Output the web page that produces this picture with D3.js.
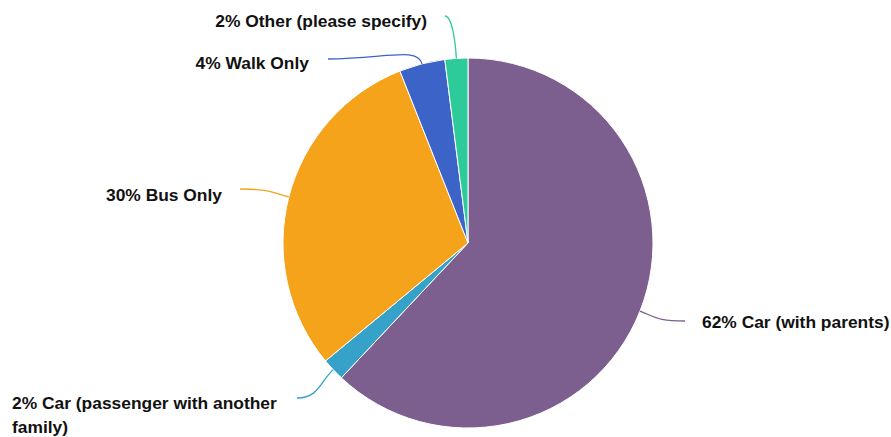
<!DOCTYPE html>
<html>
<head>
<meta charset="utf-8">
<script src="https://cdn.jsdelivr.net/npm/d3@7"></script>
<style>
  body { margin: 0; background: #fff; }
  svg { display: block; }
  text { font-family: "Liberation Sans", Arial, sans-serif; font-weight: bold; font-size: 17.4px; fill: #111; }
</style>
</head>
<body>
<div id="chart"></div>
<script>
// données du graphique
const categories = [
  "Car (with parents)",
  "Car (passenger with another family)",
  "Bus Only",
  "Walk Only",
  "Other (please specify)"
];
const percents = [62, 2, 30, 4, 2];
const colors = ["#7c5f8f", "#37a2c9", "#f4a31b", "#3c64c8", "#2ecb9a"];

// position des étiquettes (x, y du texte, ancrage, lignes)
const labelLayout = [
  { x: 702, y: 328, anchor: "start", lines: ["62% Car (with parents)"] },
  { x: 12, y: 409, anchor: "start", lines: ["2% Car (passenger with another", "family)"] },
  { x: 222, y: 201, anchor: "end", lines: ["30% Bus Only"] },
  { x: 309, y: 69, anchor: "end", lines: ["4% Walk Only"] },
  { x: 427, y: 27, anchor: "end", lines: ["2% Other (please specify)"] }
];
// bout de la ligne côté étiquette
const leaderEnd = [[685, 321], [297, 398], [240, 189], [328, 59], [445, 16]];

const width = 891, height = 437;
const cx = 468, cy = 243, radius = 185;

const svg = d3.select("#chart").append("svg")
  .attr("width", width)
  .attr("height", height);

const data = percents.map((v, i) => ({ name: categories[i], value: v, i: i }));

const pie = d3.pie().sort(null).value(d => d.value);
const arcs = pie(data);

const arc = d3.arc().innerRadius(0).outerRadius(radius);
const rimArc = d3.arc().innerRadius(radius).outerRadius(radius);

const g = svg.append("g").attr("transform", `translate(${cx},${cy})`);

g.selectAll("path.slice")
  .data(arcs)
  .join("path")
  .attr("class", "slice")
  .attr("d", arc)
  .attr("fill", d => colors[d.data.i])
  .attr("stroke", "#fff")
  .attr("stroke-width", 1);

// lignes de rappel
svg.selectAll("path.leader")
  .data(arcs)
  .join("path")
  .attr("class", "leader")
  .attr("fill", "none")
  .attr("stroke", d => colors[d.data.i])
  .attr("stroke-width", 1.3)
  .attr("d", d => {
    const c = rimArc.centroid(d);
    const a = (d.startAngle + d.endAngle) / 2;
    const sx = cx + c[0], sy = cy + c[1];
    const [ex, ey] = leaderEnd[d.data.i];
    const dir = sx > ex ? 1 : -1;
    const c1x = ex + dir * Math.abs(sx - ex) * 0.6, c1y = ey;
    const k = Math.min(18, Math.hypot(sx - ex, sy - ey) * 0.5);
    const c2x = sx + Math.sin(a) * k, c2y = sy - Math.cos(a) * k;
    return `M${ex},${ey}C${c1x},${c1y} ${c2x},${c2y} ${sx},${sy}`;
  });

// étiquettes
const labels = svg.selectAll("text.label")
  .data(arcs)
  .join("text")
  .attr("class", "label")
  .attr("text-anchor", d => labelLayout[d.data.i].anchor)
  .attr("x", d => labelLayout[d.data.i].x)
  .attr("y", d => labelLayout[d.data.i].y);

labels.selectAll("tspan")
  .data(d => labelLayout[d.data.i].lines)
  .join("tspan")
  .attr("x", function () { return d3.select(this.parentNode).attr("x"); })
  .attr("dy", (d, j) => j === 0 ? 0 : 24)
  .text(d => d);
</script>
</body>
</html>
